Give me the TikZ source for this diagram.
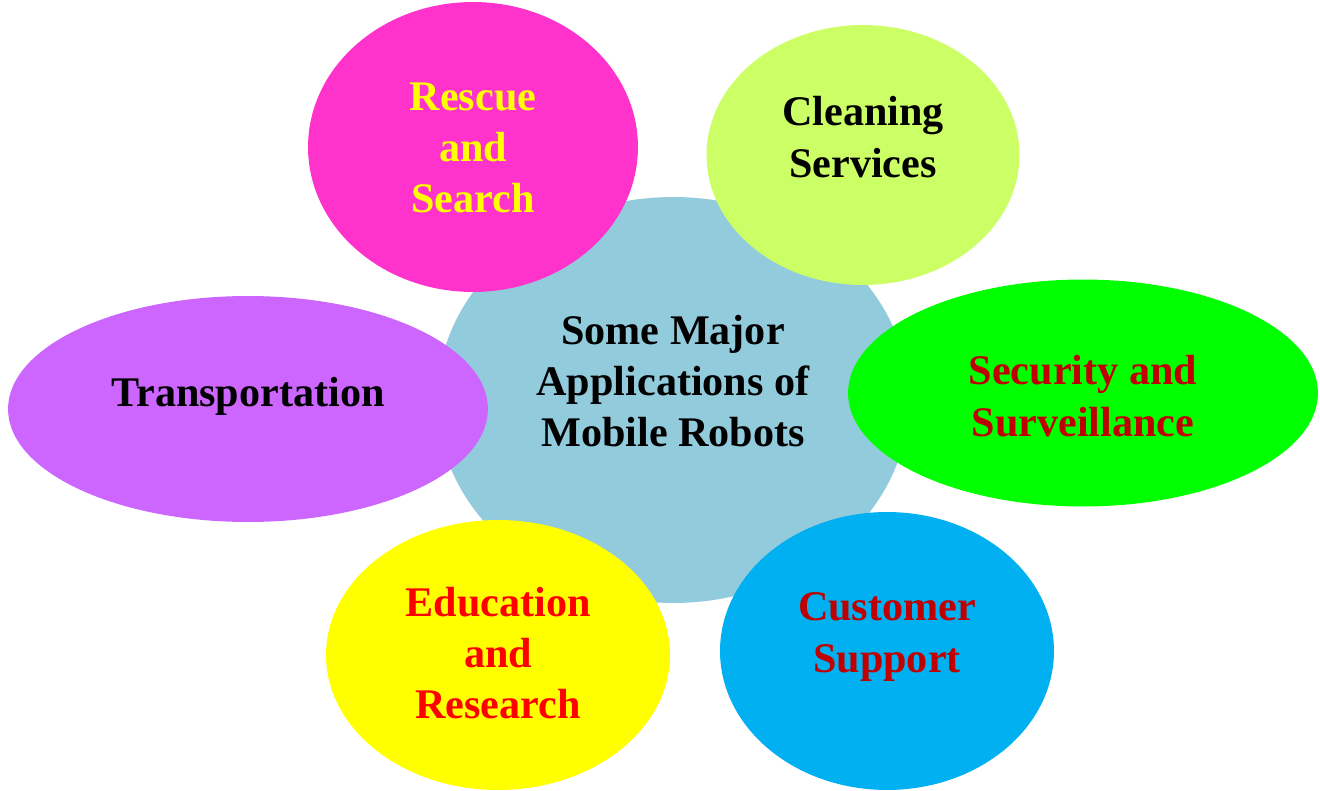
\documentclass[tikz,border=0pt]{standalone}
\usepackage{fontspec}
\setmainfont{Liberation Serif}
\usepackage{tikz}
\usetikzlibrary{shapes.geometric}

\definecolor{hubblue}{RGB}{146,203,220}
\definecolor{rescuepink}{RGB}{255,51,204}
\definecolor{cleanlime}{RGB}{204,255,102}
\definecolor{securegreen}{RGB}{0,255,0}
\definecolor{transpurple}{RGB}{204,102,255}
\definecolor{eduyellow}{RGB}{255,255,0}
\definecolor{custcyan}{RGB}{0,176,240}
\definecolor{darkred}{RGB}{192,0,0}

\tikzset{
  blob/.style={ellipse, draw=none, inner sep=0pt},
  lbl/.style={align=center, inner sep=0pt, font=\bfseries\fontsize{24}{29.2}\selectfont}
}

\begin{document}
\begin{tikzpicture}[x=0.02cm,y=-0.02cm]
      \useasboundingbox (0,0) rectangle (1320,791);
      % centre first, the others lie on top of it
      \node[blob,fill=hubblue,minimum width=9.44cm,minimum height=8.12cm] (hub) at (673,400) {};
      \node[blob,fill=rescuepink,minimum width=6.6cm,minimum height=5.8cm] (rescue) at (473,147) {};
      \node[blob,fill=cleanlime,minimum width=6.26cm,minimum height=5.2cm] (clean) at (863,155) {};
      \node[blob,fill=securegreen,minimum width=9.4cm,minimum height=4.54cm] (secure) at (1083,393) {};
      \node[blob,fill=transpurple,minimum width=9.6cm,minimum height=4.52cm] (trans) at (248,409) {};
      \node[blob,fill=eduyellow,minimum width=6.88cm,minimum height=5.4cm] (edu) at (498,655) {};
      \node[blob,fill=custcyan,minimum width=6.68cm,minimum height=5.56cm] (cust) at (887,651) {};

      \node[lbl] (hubtext) at (673,381) {Some Major\\Applications of\\Mobile Robots};
      \node[lbl,text=eduyellow] (rescuetext) at (473,148) {Rescue\\and\\Search};
      \node[lbl] (cleantext) at (863,137) {Cleaning\\Services};
      \node[lbl,text=darkred] (securetext) at (1083,396) {Security and\\Surveillance};
      \node[lbl] (transtext) at (248,396) {Transportation};
      \node[lbl,text=red] (edutext) at (498,653) {Education\\and\\Research};
      \node[lbl,text=darkred] (custtext) at (887,637) {Customer\\Support};
\end{tikzpicture}
\end{document}
